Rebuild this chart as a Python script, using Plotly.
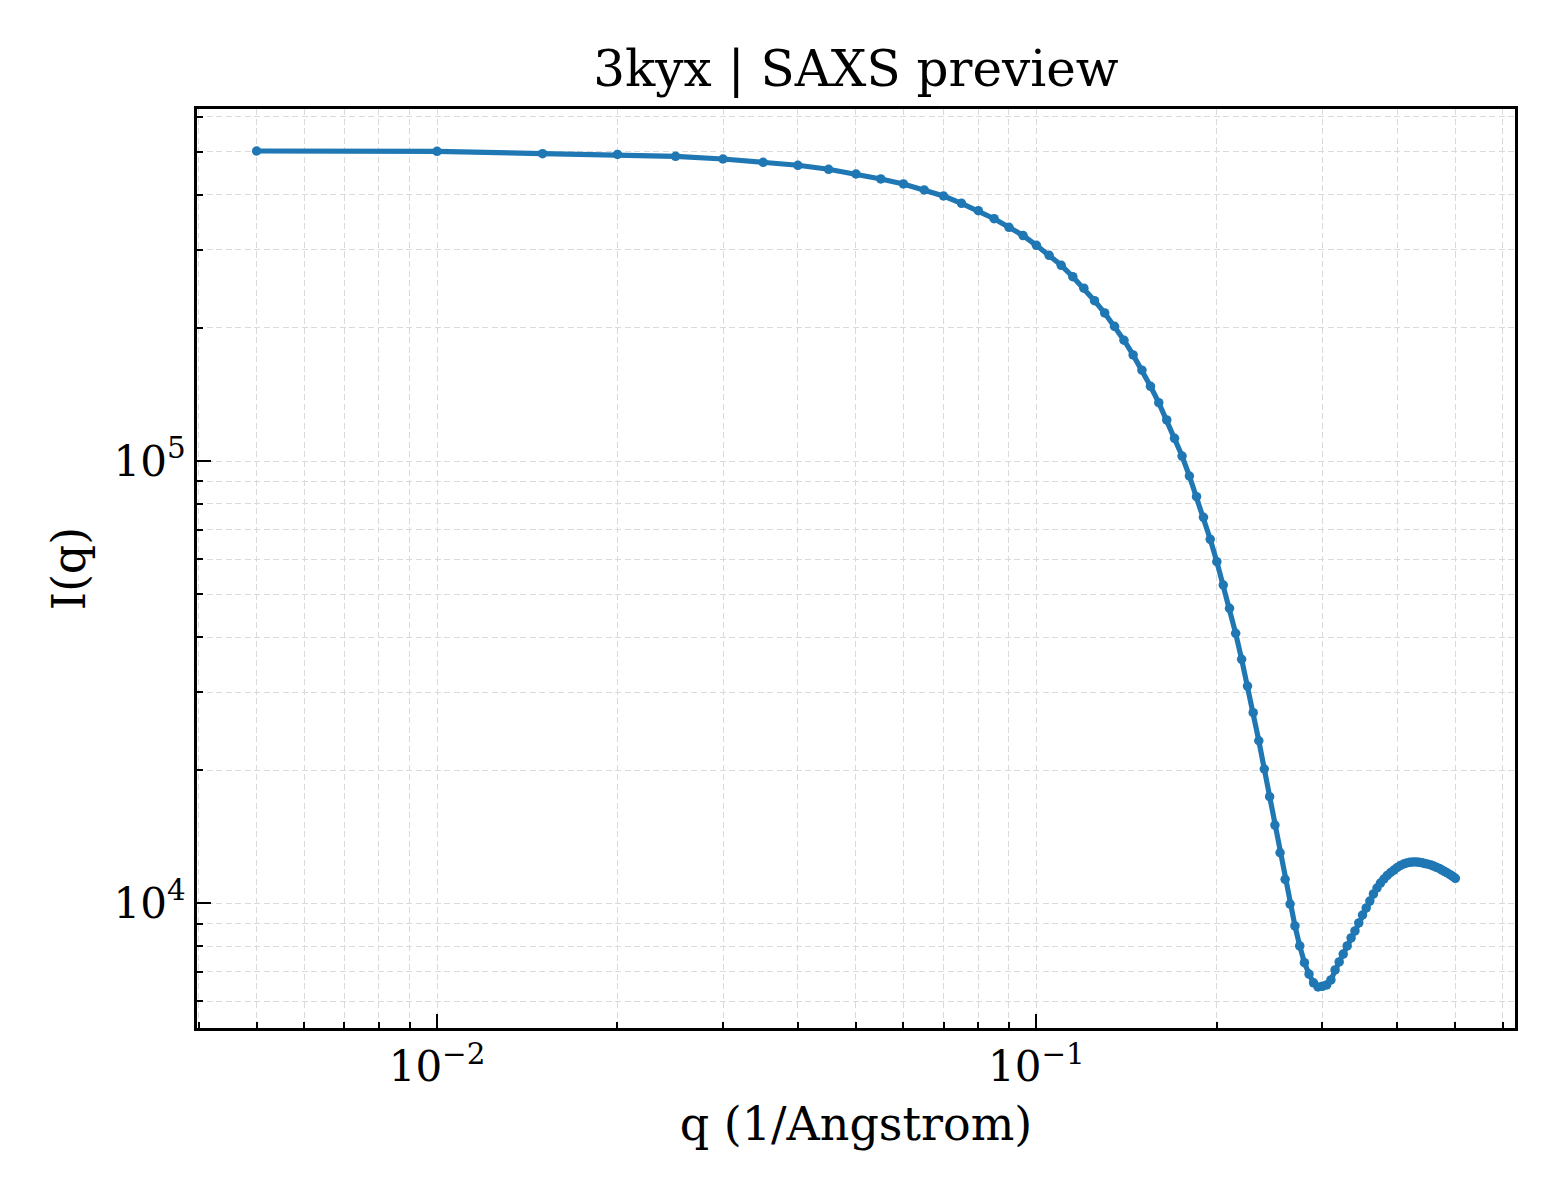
import plotly.graph_objects as go

q_values = [0.005, 0.010, 0.015, 0.020, 0.025, 0.030, 0.035, 0.040, 0.045, 0.050,
            0.055, 0.060, 0.065, 0.070, 0.075, 0.080, 0.085, 0.090, 0.095, 0.100,
            0.105, 0.110, 0.115, 0.120, 0.125, 0.130, 0.135, 0.140, 0.145, 0.150,
            0.155, 0.160, 0.165, 0.170, 0.175, 0.180, 0.185, 0.190, 0.195, 0.200,
            0.205, 0.210, 0.215, 0.220, 0.225, 0.230, 0.235, 0.240, 0.245, 0.250,
            0.255, 0.260, 0.265, 0.270, 0.275, 0.280, 0.285, 0.290, 0.295, 0.300,
            0.305, 0.310, 0.315, 0.320, 0.325, 0.330, 0.335, 0.340, 0.345, 0.350,
            0.355, 0.360, 0.365, 0.370, 0.375, 0.380, 0.385, 0.390, 0.395, 0.400,
            0.405, 0.410, 0.415, 0.420, 0.425, 0.430, 0.435, 0.440, 0.445, 0.450,
            0.455, 0.460, 0.465, 0.470, 0.475, 0.480, 0.485, 0.490, 0.495, 0.500]

intensity = [502200, 501400, 495200, 493200, 488500, 481700, 473500, 466200, 456600, 445500,
             434100, 423000, 409900, 397300, 382500, 368100, 353000, 337600, 323400, 307400,
             291800, 277000, 261000, 245800, 230400, 216100, 201600, 187500, 173700, 160400,
             147500, 135500, 123800, 112500, 102600, 92490, 83040, 74590, 66530, 59200,
             52440, 46450, 40770, 35620, 30990, 26970, 23310, 20120, 17420, 15030,
             13010, 11330, 9960, 8890, 8010, 7340, 6920, 6610, 6470, 6490,
             6540, 6710, 7070, 7370, 7680, 8010, 8350, 8660, 9030, 9410,
             9760, 10120, 10500, 10830, 11110, 11350, 11560, 11740, 11890, 12050,
             12180, 12270, 12340, 12380, 12400, 12400, 12380, 12350, 12300, 12260,
             12210, 12140, 12060, 11990, 11890, 11800, 11710, 11610, 11500, 11390]

x_tick_vals = [0.01, 0.1]
x_tick_text = ["10<sup>\u22122</sup>", "10<sup>\u22121</sup>"]
y_tick_vals = [1e4, 1e5]
y_tick_text = ["10<sup>4</sup>", "10<sup>5</sup>"]

title_text = "3kyx | SAXS preview"
x_label = "q (1/Angstrom)"
y_label = "I(q)"

FONT = "DejaVu Serif"
GRID = "#dadada"

x_minor = [m * 10 ** e for e in (-3, -2, -1) for m in range(2, 10)]
y_minor = [m * 10 ** e for e in (3, 4, 5) for m in range(2, 10)]

fig = go.Figure()
fig.add_trace(go.Scatter(
    x=q_values, y=intensity, mode="lines+markers",
    line=dict(color="#1f77b4", width=5.2),
    marker=dict(color="#1f77b4", size=9.5),
    showlegend=False,
))

axis_common = dict(
    type="log",
    tickmode="array",
    showgrid=True, gridcolor=GRID, gridwidth=1.3, griddash="6px,3.5px",
    ticks="inside", ticklen=14, tickwidth=2, tickcolor="black",
    showline=True, linecolor="black", linewidth=3, mirror=True,
    zeroline=False, automargin=False,
    tickfont=dict(family=FONT, size=42, color="black"),
)
minor_common = dict(ticks="inside", ticklen=6, tickwidth=2, tickcolor="black",
                    showgrid=True, gridcolor=GRID, gridwidth=1.3, griddash="6px,3.5px",
                    tickmode="array")

fig.update_xaxes(
    **axis_common,
    tickvals=x_tick_vals, ticktext=x_tick_text,
    range=[-2.4005, -0.2015],
    minor=dict(**minor_common, tickvals=x_minor),
    title=dict(text=x_label, font=dict(family=FONT, size=46, color="black"), standoff=18),
)
fig.update_yaxes(
    **axis_common,
    tickvals=y_tick_vals, ticktext=y_tick_text,
    range=[3.7181, 5.7958],
    minor=dict(**minor_common, tickvals=y_minor),
    title=dict(text=y_label, font=dict(family=FONT, size=46, color="black"), standoff=14),
)

fig.update_layout(
    width=1560, height=1200,
    margin=dict(l=197, r=45, t=109, b=172),
    paper_bgcolor="white", plot_bgcolor="white",
    title=dict(text=title_text, x=0.5487, xanchor="center", y=1 - 68 / 1200,
               yanchor="middle", yref="container",
               font=dict(family=FONT, size=50, color="black")),
)

fig.write_html("out.html", config={"displayModeBar": False},
               post_script="document.body.style.margin='0';")
